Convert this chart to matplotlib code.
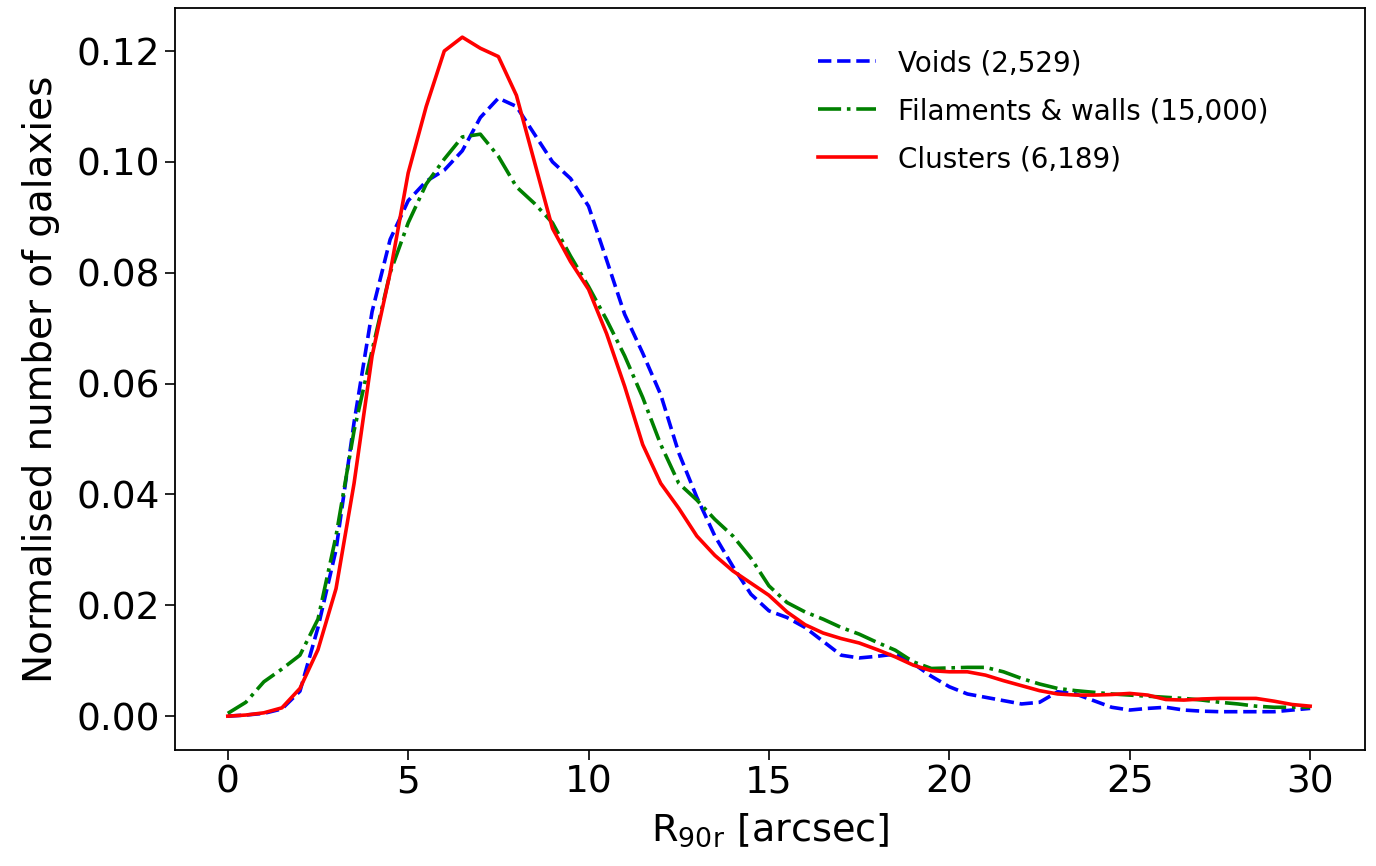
import numpy as np
import matplotlib
matplotlib.use('Agg')
import matplotlib.pyplot as plt

# R90r grid (arcsec) and normalised counts
r90 = np.arange(0, 30.5, 0.5)

voids = [0.0000, 0.0002, 0.0005, 0.0013, 0.0045, 0.0160, 0.0300, 0.0530, 0.0730, 0.0860,
         0.0930, 0.0965, 0.0985, 0.1020, 0.1080, 0.1115, 0.1100, 0.1050, 0.1000, 0.0970,
         0.0920, 0.0823, 0.0725, 0.0655, 0.0580, 0.0475, 0.0395, 0.0325, 0.0270, 0.0220,
         0.0190, 0.0178, 0.0160, 0.0135, 0.0110, 0.0105, 0.0108, 0.0112, 0.0095, 0.0072,
         0.0053, 0.0040, 0.0034, 0.0028, 0.0022, 0.0025, 0.0044, 0.0040, 0.0028, 0.0016,
         0.0011, 0.0014, 0.0016, 0.0011, 0.0009, 0.0008, 0.0008, 0.0008, 0.0008, 0.0011,
         0.0014]

filaments = [0.0005, 0.0025, 0.0062, 0.0085, 0.0110, 0.0175, 0.0325, 0.0515, 0.0660, 0.0800,
             0.0890, 0.0960, 0.1005, 0.1045, 0.1050, 0.1010, 0.0955, 0.0925, 0.0890, 0.0830,
             0.0775, 0.0715, 0.0650, 0.0575, 0.0490, 0.0420, 0.0390, 0.0355, 0.0325, 0.0285,
             0.0235, 0.0205, 0.0188, 0.0175, 0.0160, 0.0148, 0.0133, 0.0119, 0.0098, 0.0086,
             0.0087, 0.0088, 0.0088, 0.0080, 0.0068, 0.0058, 0.0050, 0.0046, 0.0043, 0.0040,
             0.0038, 0.0036, 0.0034, 0.0032, 0.0029, 0.0025, 0.0022, 0.0018, 0.0016, 0.0016,
             0.0016]

clusters = [0.0000, 0.0002, 0.0006, 0.0015, 0.0050, 0.0120, 0.0230, 0.0420, 0.0650, 0.0800,
            0.0980, 0.1100, 0.1200, 0.1225, 0.1205, 0.1190, 0.1120, 0.1000, 0.0880, 0.0820,
            0.0770, 0.0690, 0.0595, 0.0490, 0.0420, 0.0375, 0.0325, 0.0290, 0.0262, 0.0240,
            0.0218, 0.0188, 0.0165, 0.0150, 0.0140, 0.0132, 0.0120, 0.0107, 0.0092, 0.0082,
            0.0080, 0.0080, 0.0074, 0.0064, 0.0055, 0.0046, 0.0040, 0.0038, 0.0038, 0.0039,
            0.0041, 0.0038, 0.0030, 0.0029, 0.0031, 0.0032, 0.0032, 0.0032, 0.0027, 0.0021,
            0.0018]

labels = ['Voids (2,529)', 'Filaments & walls (15,000)', 'Clusters (6,189)']

fig = plt.figure(figsize=(13.76, 8.66), dpi=100)
ax = fig.add_axes([0.127, 0.134, 0.865, 0.857])

ax.plot(r90, voids, color='blue', ls='--', lw=2.6, label=labels[0])
ax.plot(r90, filaments, color='green', ls='-.', lw=2.6, label=labels[1])
ax.plot(r90, clusters, color='red', ls='-', lw=2.6, label=labels[2])

ax.set_xlim(-1.47, 31.52)
ax.set_ylim(-0.0061, 0.1278)
ax.set_xticks([0, 5, 10, 15, 20, 25, 30])
ax.set_yticks([0.00, 0.02, 0.04, 0.06, 0.08, 0.10, 0.12])
ax.yaxis.set_major_formatter(matplotlib.ticker.FormatStrFormatter('%.2f'))
ax.tick_params(labelsize=27, length=7, width=1.2)
for s in ax.spines.values():
    s.set_linewidth(1.3)

ax.set_xlabel(r'R$_{\mathrm{90r}}$ [arcsec]', fontsize=27.5, labelpad=8)
ax.set_ylabel('Normalised number of galaxies', fontsize=28, labelpad=12)
ax.legend(loc='upper right', frameon=False, fontsize=20, handlelength=2.1,
          labelspacing=0.72, bbox_to_anchor=(0.94, 0.978))

plt.savefig('out.png', dpi=100)
